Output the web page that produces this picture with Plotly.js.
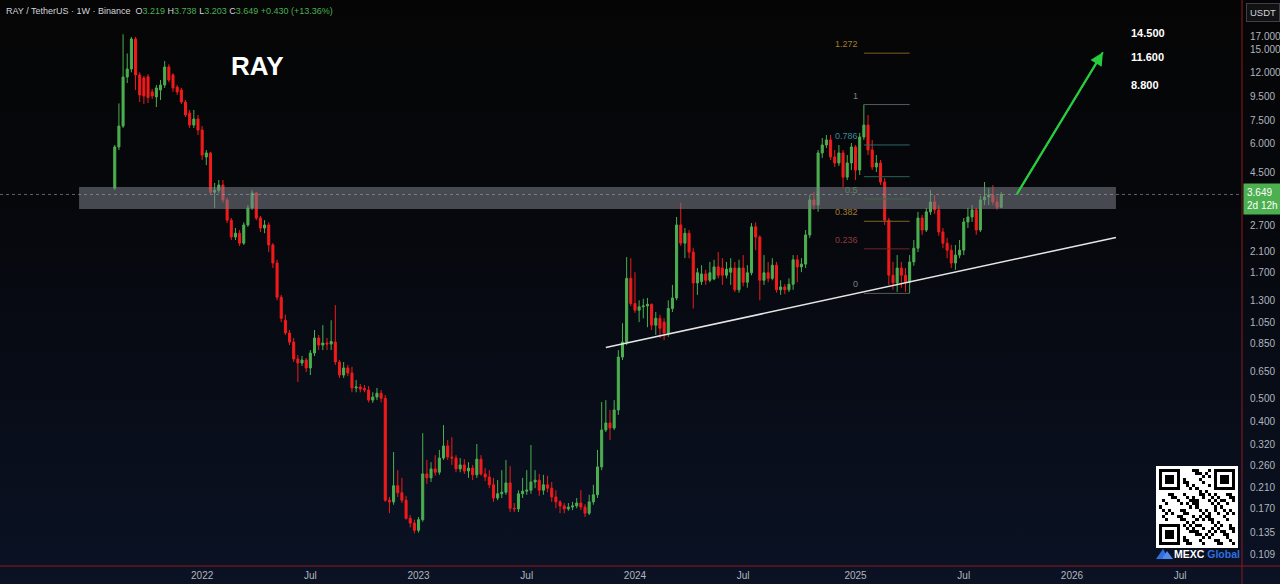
<!DOCTYPE html>
<html><head><meta charset="utf-8">
<script src="https://cdn.plot.ly/plotly-3.0.1.min.js"></script>
<style>
html,body{margin:0;padding:0;width:1280px;height:584px;overflow:hidden;background:linear-gradient(180deg,#050505 0%,#06080d 40%,#0a1224 100%);}
#chart{width:1280px;height:584px;}
</style></head><body><div id="chart"></div>
<script>
// ---------------- DATA ----------------
const firstWeek = [2021, 7, 9]; // 2021-08-09 (weekly candles, Monday open)
const openP = [3.88,5.80,7.11,11.47,12.40,16.62,11.70,11.36,11.5,9.92,
9.45,10.11,10.61,12.65,11.70,10.4,10.11,8.99,8.07,7.18,
7.61,6.84,5.26,5.47,3.73,3.80,4.00,3.46,2.84,2.41,
2.50,2.27,2.71,3.20,3.70,2.90,2.63,2.71,2.23,1.87,
1.34,1.07,0.945,0.865,0.733,0.705,0.726,0.672,0.777,0.900,
0.840,0.857,0.848,0.865,0.712,0.627,0.672,0.640,0.553,0.558,
0.550,0.542,0.491,0.506,0.525,0.50,0.185,0.182,0.213,0.199,
0.185,0.155,0.148,0.138,0.153,0.239,0.23,0.251,0.243,0.279,
0.314,0.282,0.279,0.251,0.261,0.246,0.253,0.237,0.276,0.239,
0.232,0.215,0.189,0.197,0.20,0.219,0.171,0.17,0.197,0.202,
0.204,0.221,0.225,0.204,0.215,0.208,0.191,0.182,0.175,0.17,
0.173,0.175,0.18,0.173,0.163,0.182,0.195,0.256,0.367,0.393,
0.374,0.446,0.747,0.865,1.61,1.26,1.18,1.22,1.23,1.25,
1.02,1.09,1.05,0.945,1.20,1.33,2.71,2.27,2.50,2.08,
1.54,1.56,1.68,1.58,1.60,1.80,1.78,1.66,1.71,1.78,
1.44,1.78,1.55,1.70,2.66,2.41,1.58,1.70,1.61,1.83,
1.44,1.48,1.44,1.52,1.93,1.80,1.85,2.46,3.46,3.29,
5.47,5.91,6.21,5.26,4.96,5.47,4.32,4.96,5.80,4.63,
6.39,7.18,5.63,4.77,4.96,4.12,2.84,1.66,1.54,1.78,
1.66,1.55,1.89,2.16,2.90,2.58,3.08,3.39,3.14,2.53,
2.27,2.12,1.87,2.02,2.12,2.79,2.93,3.14,2.58,3.46,
3.56,3.63,3.39,3.219];
const highP = [5.91,8.87,17.4,14.43,16.95,16.95,12.0,11.6,11.8,10.2,
10.61,11.14,13.4,13.0,11.9,10.61,10.31,9.17,8.32,8.32,
7.92,7.11,5.63,5.52,4.08,4.20,4.20,3.53,2.90,2.63,
2.58,2.78,3.29,3.81,3.73,2.96,2.84,2.78,2.27,1.93,
1.37,1.13,0.973,0.900,0.762,0.755,0.74,0.80,0.973,0.927,
1.02,0.90,1.07,1.24,0.726,0.712,0.692,0.68,0.597,0.575,
0.569,0.563,0.53,0.553,0.542,0.516,0.191,0.296,0.248,0.23,
0.193,0.16,0.153,0.157,0.356,0.274,0.268,0.287,0.302,0.385,
0.333,0.342,0.287,0.279,0.276,0.268,0.261,0.32,0.287,0.253,
0.248,0.23,0.225,0.248,0.274,0.258,0.18,0.204,0.23,0.248,
0.317,0.248,0.239,0.237,0.235,0.221,0.204,0.185,0.18,0.18,
0.182,0.189,0.204,0.178,0.195,0.215,0.302,0.482,0.491,0.446,
0.491,0.80,1.04,1.98,1.96,1.71,1.30,1.32,1.33,1.26,
1.16,1.13,1.09,1.30,1.51,2.93,3.36,2.63,2.58,2.17,
1.78,1.83,1.75,1.89,1.93,2.08,1.96,1.89,1.96,1.89,
1.93,2.02,1.83,2.76,2.78,2.45,2.02,1.89,1.96,1.89,
1.58,1.52,1.61,2.02,2.02,1.96,2.58,3.63,3.73,5.63,
6.33,6.52,6.52,5.63,5.91,5.63,5.36,6.03,5.91,6.65,
8.77,7.92,6.21,5.36,5.11,4.28,2.90,1.89,2.02,1.89,
1.78,2.02,2.34,3.08,2.99,3.20,3.81,3.63,3.29,2.63,
2.39,2.23,2.23,2.34,2.90,3.20,3.29,3.20,3.60,4.12,
3.88,4.00,3.60,3.738];
const lowP = [3.81,5.63,6.98,10.82,12.0,10.11,8.99,8.82,8.9,9.26,
8.56,9.17,10.31,10.9,9.92,9.63,8.82,7.77,6.98,6.98,
6.52,5.11,4.86,3.66,3.20,3.70,3.36,2.76,2.34,2.34,
2.21,2.23,2.66,3.14,2.84,2.53,2.50,2.08,1.78,1.30,
1.05,0.927,0.840,0.712,0.586,0.685,0.646,0.627,0.755,0.80,
0.80,0.80,0.80,0.692,0.61,0.61,0.62,0.53,0.53,0.53,
0.53,0.48,0.478,0.491,0.48,0.182,0.163,0.177,0.191,0.18,
0.153,0.142,0.134,0.135,0.150,0.217,0.221,0.235,0.237,0.274,
0.274,0.261,0.243,0.243,0.239,0.23,0.225,0.23,0.235,0.223,
0.208,0.182,0.185,0.189,0.195,0.165,0.165,0.165,0.189,0.195,
0.197,0.208,0.193,0.195,0.20,0.182,0.171,0.163,0.163,0.167,
0.168,0.171,0.168,0.157,0.16,0.177,0.189,0.248,0.36,0.333,
0.367,0.425,0.726,0.84,1.23,1.15,1.05,1.09,1.00,0.973,
0.927,0.90,0.882,0.91,1.16,1.30,2.21,1.96,1.96,1.20,
1.37,1.51,1.51,1.55,1.58,1.61,1.51,1.61,1.51,1.41,
1.40,1.49,1.47,1.66,2.12,1.30,1.51,1.55,1.58,1.40,
1.37,1.38,1.41,1.44,1.55,1.71,1.78,2.39,3.14,3.08,
5.21,5.74,5.11,4.77,4.82,3.92,4.20,4.63,4.20,4.41,
6.21,5.36,4.63,4.54,4.00,2.71,1.51,1.44,1.41,1.47,
1.41,1.39,1.82,2.08,2.46,2.53,2.99,3.02,2.44,2.16,
1.96,1.78,1.75,1.96,2.02,2.63,2.79,2.46,2.53,3.29,
3.29,3.29,3.14,3.203];
const closeP = [5.80,7.11,11.47,12.40,16.62,11.70,9.63,9.54,9.4,9.54,
10.31,10.61,12.65,11.14,10.31,9.92,8.99,7.92,7.18,7.61,
6.84,5.36,5.47,3.73,3.80,4.00,3.46,2.84,2.41,2.50,
2.27,2.71,3.20,3.70,2.90,2.63,2.71,2.23,1.87,1.34,
1.09,0.945,0.865,0.733,0.705,0.726,0.672,0.777,0.900,0.840,
0.857,0.848,0.87,0.712,0.627,0.672,0.640,0.553,0.558,0.547,
0.542,0.491,0.506,0.525,0.50,0.185,0.182,0.213,0.199,0.185,
0.155,0.148,0.138,0.153,0.239,0.23,0.251,0.243,0.279,0.314,
0.282,0.279,0.251,0.261,0.246,0.253,0.237,0.276,0.239,0.232,
0.215,0.189,0.197,0.20,0.219,0.171,0.17,0.197,0.202,0.204,
0.221,0.225,0.204,0.215,0.208,0.191,0.182,0.175,0.17,0.173,
0.175,0.18,0.173,0.163,0.182,0.195,0.256,0.367,0.393,0.374,
0.446,0.747,0.865,1.61,1.26,1.18,1.22,1.23,1.25,1.02,
1.09,0.99,0.945,1.20,1.33,2.71,2.27,2.50,2.08,1.54,
1.70,1.68,1.58,1.70,1.80,1.66,1.66,1.76,1.78,1.44,
1.78,1.55,1.70,2.66,2.41,1.58,1.70,1.61,1.83,1.44,
1.48,1.44,1.52,1.93,1.80,1.85,2.46,3.46,3.29,5.47,
5.91,6.21,5.26,4.96,5.47,4.32,4.96,5.80,4.63,6.39,
7.18,5.63,4.77,4.96,4.12,2.84,1.66,1.54,1.78,1.66,
1.55,1.89,2.16,2.90,2.58,3.08,3.39,3.14,2.53,2.27,
2.12,1.87,2.02,2.12,2.79,2.93,3.14,2.58,3.46,3.56,
3.63,3.39,3.219,3.649];

const xTickDates = ['2022-01-03','2022-07-04','2023-01-02','2023-07-03','2024-01-01','2024-07-01','2025-01-06','2025-07-07','2026-01-05','2026-07-06'];
const xTickText  = ['2022','Jul','2023','Jul','2024','Jul','2025','Jul','2026','Jul'];
const yTickVals  = [17,15,12,9.5,7.5,6,4.5,2.7,2.1,1.7,1.3,1.05,0.85,0.65,0.5,0.4,0.32,0.26,0.21,0.17,0.135,0.109];
const yTickText  = ['17.000','15.000','12.000','9.500','7.500','6.000','4.500','2.700','2.100','1.700','1.300','1.050','0.850','0.650','0.500','0.400','0.320','0.260','0.210','0.170','0.135','0.109'];

const zoneDates   = ['2021-06-10','2026-03-20'];
const zonePrices  = [3.92, 3.17];
const trendDates  = ['2023-11-13','2026-03-20'];
const trendPrices = [0.82, 2.40];
const arrowDates  = ['2025-10-04','2026-02-26'];
const arrowPrices = [3.65, 14.6];
const fibIdx      = [180, 191];           // candles of the fib swing (high, low)
const fibHigh = 8.77, fibLow = 1.39;
const fibLevels = [1.272, 1, 0.786, 0.618, 0.5, 0.382, 0.236, 0];
const fibLabels = ['1.272','1','0.786','','0.5','0.382','0.236','0'];
const fibLineColors = ['#7d6220','#55585f','#2c6a70','#2a6558','#3f6a3c','#806320','#6e2628','#55585f'];
const fibTextColors = ['#a27d2c','#7c7f88','#3b8a96','#3b8a7a','#5a8455','#a27d2c','#8c3a3c','#7c7f88'];
const targetTexts = ['14.500','11.600','8.800'];
const lastPrice = 3.649;
const headerVals = {O:'3.219', H:'3.738', L:'3.203', C:'3.649', chg:'+0.430 (+13.36%)'};
const axisRange = ['2021-01-28','2026-10-18'];

// ---------------- BUILD ----------------
const DAY = 86400000;
const t0 = Date.UTC(firstWeek[0], firstWeek[1], firstWeek[2]);
const dates = closeP.map((_, i) => new Date(t0 + i * 7 * DAY).toISOString().slice(0, 10));
const fibDates = fibIdx.map(i => dates[i]);
const fibPrice = lv => Math.exp(Math.log(fibLow) + lv * (Math.log(fibHigh) - Math.log(fibLow)));

const W = 1242, H = 566; // plot area in px
const px = x => x / W, py = y => (H - y) / H;
const FONT = 'Liberation Sans, Arial, sans-serif';

const traces = [];
traces.push({
  type: 'candlestick', x: dates, open: openP, high: highP, low: lowP, close: closeP,
  increasing: {line: {color: '#4caf50', width: 1}, fillcolor: '#4caf50'},
  decreasing: {line: {color: '#f21b1b', width: 1}, fillcolor: '#f21b1b'},
  whiskerwidth: 0, hoverinfo: 'skip', showlegend: false
});
// resistance zone
traces.push({
  type: 'scatter', mode: 'lines', hoverinfo: 'skip', showlegend: false,
  x: [zoneDates[0], zoneDates[1], zoneDates[1], zoneDates[0], zoneDates[0]],
  y: [zonePrices[0], zonePrices[0], zonePrices[1], zonePrices[1], zonePrices[0]],
  fill: 'toself', fillcolor: 'rgba(124,127,136,0.55)', line: {width: 0}
});
// last price dotted line
traces.push({
  type: 'scatter', mode: 'lines', hoverinfo: 'skip', showlegend: false,
  x: axisRange, y: [lastPrice, lastPrice],
  line: {color: 'rgba(170,172,180,0.55)', width: 1, dash: 'dot'}
});
// fib levels
fibLevels.forEach((lv, k) => {
  const p = fibPrice(lv);
  traces.push({
    type: 'scatter', mode: 'lines', hoverinfo: 'skip', showlegend: false,
    x: fibDates, y: [p, p], line: {color: fibLineColors[k], width: 1}
  });
});
// trendline
traces.push({
  type: 'scatter', mode: 'lines', hoverinfo: 'skip', showlegend: false,
  x: trendDates, y: trendPrices, line: {color: '#e6e6e6', width: 1.5}
});
// arrow shaft
traces.push({
  type: 'scatter', mode: 'lines', hoverinfo: 'skip', showlegend: false,
  x: arrowDates, y: arrowPrices, line: {color: '#27cc3f', width: 2}
});

// QR code (decorative) heatmap
const N = 27, qr = [];
for (let r = 0; r < N; r++) {
  const row = [];
  for (let c = 0; c < N; c++) {
    let v = ((r * 7 + c * 11 + r * c * 3) % 5 === 0 || ((r ^ c) % 3 === 0 && (r + c) % 2 === 0)) ? 1 : 0;
    const fp = (r0, c0) => {
      const rr = r - r0, cc = c - c0;
      if (rr < -1 || rr > 7 || cc < -1 || cc > 7) return null;
      if (rr === -1 || rr === 7 || cc === -1 || cc === 7) return 0;
      if (rr === 0 || rr === 6 || cc === 0 || cc === 6) return 1;
      if (rr >= 2 && rr <= 4 && cc >= 2 && cc <= 4) return 1;
      return 0;
    };
    for (const [r0, c0] of [[1,1],[1,N-8],[N-8,1]]) { const f = fp(r0, c0); if (f !== null) v = f; }
    if (r === 0 || c === 0 || r === N - 1 || c === N - 1) v = 0;
    row.push(v);
  }
  qr.push(row);
}
traces.push({
  type: 'heatmap', z: qr, xaxis: 'x2', yaxis: 'y2', showscale: false, hoverinfo: 'skip',
  colorscale: [[0, '#ffffff'], [1, '#000000']], zmin: 0, zmax: 1
});

const annotations = [];
// header
annotations.push({
  xref: 'paper', yref: 'paper', x: 0, y: 1, xanchor: 'left', yanchor: 'top', xshift: 4, yshift: -4,
  showarrow: false, align: 'left',
  font: {family: FONT, size: 9, color: '#d1d4dc'},
  text: 'RAY / TetherUS · 1W · Binance  O<span style="color:#4caf50">' + headerVals.O +
        '</span> H<span style="color:#4caf50">' + headerVals.H +
        '</span> L<span style="color:#4caf50">' + headerVals.L +
        '</span> C<span style="color:#4caf50">' + headerVals.C +
        '</span> <span style="color:#4caf50">' + headerVals.chg + '</span>'
});
// RAY title
annotations.push({
  xref: 'paper', yref: 'paper', x: px(257.5), y: py(66), xanchor: 'center', yanchor: 'middle',
  showarrow: false, text: '<b>RAY</b>',
  font: {family: FONT, size: 26, color: '#ffffff'}
});
// targets
[33, 57, 85].forEach((yy, k) => annotations.push({
  xref: 'paper', yref: 'paper', x: px(1129), y: py(yy), xanchor: 'left', yanchor: 'middle',
  showarrow: false, text: '<b>' + targetTexts[k] + '</b>',
  font: {family: FONT, size: 11, color: '#ffffff'}
}));
// fib labels
fibLevels.forEach((lv, k) => {
  if (!fibLabels[k]) return;
  annotations.push({
    xref: 'x', yref: 'y', x: fibDates[0], y: Math.log10(fibPrice(lv)), xanchor: 'right', yanchor: 'middle',
    xshift: -4, yshift: 9, showarrow: false, text: fibLabels[k],
    font: {family: FONT, size: 9, color: fibTextColors[k]}
  });
});
// arrow head
annotations.push({
  xref: 'x', yref: 'y', axref: 'x', ayref: 'y',
  x: arrowDates[1], y: Math.log10(arrowPrices[1]),
  ax: arrowDates[0], ay: Math.log10(arrowPrices[0]),
  showarrow: true, arrowhead: 2, arrowsize: 1.3, arrowwidth: 2, arrowcolor: '#27cc3f', text: ''
});
// price tag on axis
annotations.push({
  xref: 'paper', yref: 'y', x: 1, y: Math.log10(lastPrice), xanchor: 'left', yanchor: 'middle',
  xshift: 1, yshift: -5, showarrow: false, align: 'left',
  text: lastPrice.toFixed(3) + '<br>2d 12h', bgcolor: '#4caf50', borderpad: 3,
  font: {family: FONT, size: 10, color: '#ffffff'}
});
// USDT box
annotations.push({
  xref: 'paper', yref: 'paper', x: 1, y: 1, xanchor: 'left', yanchor: 'top', xshift: 4, yshift: -3,
  showarrow: false, text: 'USDT', bgcolor: '#121212', bordercolor: '#3d404a', borderwidth: 1, borderpad: 3,
  font: {family: FONT, size: 9.5, color: '#d1d4dc'}
});
// MEXC Global
annotations.push({
  xref: 'paper', yref: 'paper', x: px(1172), y: py(554), xanchor: 'left', yanchor: 'middle',
  showarrow: false, text: '<b>MEXC</b> <span style="color:#2f6fe0"><b>Global</b></span>',
  font: {family: FONT, size: 10.5, color: '#ffffff'}
});

const shapes = [
  {type: 'line', xref: 'paper', yref: 'paper', x0: 1, x1: 1, y0: -0.05, y1: 1.01, line: {color: '#8e1a1f', width: 1}},
  {type: 'line', xref: 'paper', yref: 'paper', x0: -0.01, x1: 1.04, y0: 0, y1: 0, line: {color: '#8e1a1f', width: 1}},
  {type: 'path', xref: 'paper', yref: 'paper', fillcolor: '#2f6fe0', line: {width: 0},
   path: `M ${px(1156)} ${py(559)} L ${px(1163)} ${py(549)} L ${px(1169)} ${py(559)} Z`},
  {type: 'path', xref: 'paper', yref: 'paper', fillcolor: '#4f8cf0', line: {width: 0},
   path: `M ${px(1162)} ${py(559)} L ${px(1167)} ${py(551)} L ${px(1173)} ${py(559)} Z`}
];

const layout = {
  width: 1280, height: 584,
  margin: {l: 0, r: 38, t: 0, b: 18, pad: 0},
  paper_bgcolor: 'rgba(0,0,0,0)', plot_bgcolor: 'rgba(0,0,0,0)',
  showlegend: false, hovermode: false, dragmode: false,
  xaxis: {
    type: 'date', range: axisRange, showgrid: false, zeroline: false, showline: false,
    rangeslider: {visible: false}, tickvals: xTickDates, ticktext: xTickText, ticks: '',
    tickfont: {family: FONT, size: 10, color: '#b2b5be'}, ticklabelstandoff: 2
  },
  yaxis: {
    type: 'log', side: 'right', range: [-1.0115, 1.3858], showgrid: false, zeroline: false, showline: false,
    tickvals: yTickVals, ticktext: yTickText, ticks: '',
    tickfont: {family: FONT, size: 10, color: '#b2b5be'}, ticklabelstandoff: 7
  },
  xaxis2: {domain: [px(1156), px(1238)], anchor: 'y2', visible: false, fixedrange: true},
  yaxis2: {domain: [py(548), py(466)], anchor: 'x2', visible: false, autorange: 'reversed', fixedrange: true},
  annotations: annotations, shapes: shapes
};

Plotly.newPlot('chart', traces, layout, {staticPlot: true, displayModeBar: false});
</script></body></html>
